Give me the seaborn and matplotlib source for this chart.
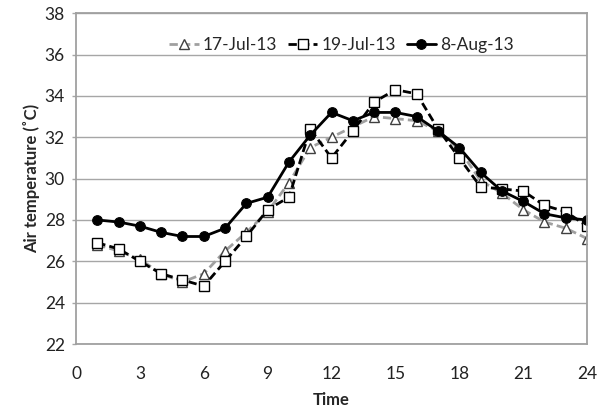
import seaborn as sns
import matplotlib.pyplot as plt

# stunden und temperaturen
hours = list(range(1, 25))
jul17 = [26.8, 26.5, 26.1, 25.4, 25.0, 25.4, 26.5, 27.4, 28.4, 29.8, 31.5, 32.0,
         32.5, 33.0, 32.9, 32.8, 32.3, 31.4, 29.9, 29.3, 28.5, 27.9, 27.6, 27.1]
jul19 = [26.9, 26.6, 26.0, 25.4, 25.1, 24.8, 26.0, 27.2, 28.5, 29.1, 32.4, 31.0,
         32.3, 33.7, 34.3, 34.1, 32.4, 31.0, 29.6, 29.5, 29.4, 28.7, 28.4, 27.7]
aug8 = [28.0, 27.9, 27.7, 27.4, 27.2, 27.2, 27.6, 28.8, 29.1, 30.8, 32.1, 33.2,
        32.8, 33.2, 33.2, 33.0, 32.3, 31.5, 30.3, 29.4, 28.9, 28.3, 28.1, 28.0]
labels = ["17-Jul-13", "19-Jul-13", "8-Aug-13"]

sns.set_style("white")
plt.rcParams['font.family'] = ['Lato', 'DejaVu Sans']

fig = plt.figure(figsize=(6.09, 4.12), dpi=100)
ax = fig.add_axes([0.1248, 0.165, 0.8392, 0.803])

ax.grid(axis="y", color="#a6a6a6", linewidth=1)
ax.set_axisbelow(True)

sns.lineplot(x=hours, y=jul17, ax=ax, color="#a0a0a0", linestyle=(0, (3, 1.5)), linewidth=2,
             marker="^", markersize=6.5, markerfacecolor="white", markeredgecolor="#404040",
             markeredgewidth=1, label=labels[0])
sns.lineplot(x=hours, y=jul19, ax=ax, color="black", linestyle=(0, (3, 1.5)), linewidth=2,
             marker="s", markersize=6.5, markerfacecolor="white", markeredgecolor="black",
             markeredgewidth=1, label=labels[1])
sns.lineplot(x=hours, y=aug8, ax=ax, color="black", linewidth=2,
             marker="o", markersize=7, markerfacecolor="black", markeredgecolor="black",
             label=labels[2])

ax.set_xlim(0, 24)
ax.set_ylim(22, 38)
ax.set_xticks(range(0, 25, 3))
ax.set_yticks(range(22, 39, 2))
ax.tick_params(axis="x", length=0, pad=16, labelsize=12.5, colors="#222222")
ax.tick_params(axis="y", length=3, width=1, color="#a6a6a6", pad=5, labelsize=12.5, labelcolor="#222222", left=True)
for s in ax.spines.values():
    s.set_color("#a0a0a0")
    s.set_linewidth(1.3)

ax.set_xlabel("Time", fontweight="bold", fontsize=12, labelpad=7)
ax.set_ylabel("Air temperature (˚C)", fontweight="bold", fontsize=12, labelpad=3)

ax.legend(loc="upper center", bbox_to_anchor=(0.52, 0.975), ncol=3, frameon=False,
          fontsize=12.5, handlelength=1.7, columnspacing=0.6, handletextpad=0.25)

plt.savefig("out.png", dpi=100)
